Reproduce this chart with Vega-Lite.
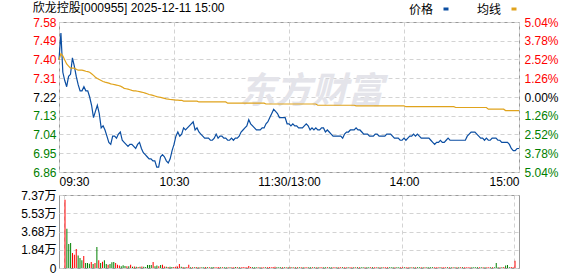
{
"$schema":"https://vega.github.io/schema/vega-lite/v6.json",
"padding":{"left":20,"top":1,"right":0,"bottom":0},
"background":"white",
"config":{"font":"Liberation Sans, Noto Sans CJK SC","view":{"stroke":"#999999","strokeWidth":1},
"axis":{"labelFont":"Liberation Sans, Noto Sans CJK SC","labelFontSize":12,"ticks":false,"domain":false,"gridColor":"#d3d3d3","gridDash":[4,3],"gridWidth":1,"title":null}},
"datasets":{"m":[
{"t":0,"p":7.40,"a":7.40,"v":6.90,"d":"up"},{"t":1,"p":7.53,"a":7.43,"v":3.97,"d":"dn"},{"t":2,"p":7.34,"a":7.42,"v":2.42,"d":"dn"},{"t":3,"p":7.30,"a":7.40,"v":2.52,"d":"dn"},{"t":4,"p":7.27,"a":7.38,"v":1.51,"d":"up"},{"t":5,"p":7.32,"a":7.37,"v":1.35,"d":"up"},{"t":6,"p":7.33,"a":7.36,"v":1.92,"d":"up"},{"t":7,"p":7.41,"a":7.36,"v":1.25,"d":"dn"},{"t":8,"p":7.37,"a":7.36,"v":1.01,"d":"dn"},{"t":9,"p":7.32,"a":7.355,"v":0.77,"d":"dn"},
{"t":10,"p":7.28,"a":7.35,"v":1.20,"d":"up"},{"t":11,"p":7.25,"a":7.35,"v":0.50,"d":"dn"},{"t":12,"p":7.25,"a":7.35,"v":0.50,"d":"dn"},{"t":13,"p":7.27,"a":7.348,"v":0.44,"d":"dn"},{"t":14,"p":7.25,"a":7.345,"v":0.61,"d":"up"},{"t":15,"p":7.25,"a":7.343,"v":0.40,"d":"dn"},{"t":16,"p":7.22,"a":7.34,"v":0.50,"d":"up"},{"t":17,"p":7.18,"a":7.333,"v":2.12,"d":"dn"},{"t":18,"p":7.12,"a":7.325,"v":0.77,"d":"up"},{"t":19,"p":7.15,"a":7.316,"v":0.50,"d":"dn"},
{"t":20,"p":7.18,"a":7.31,"v":0.64,"d":"up"},{"t":21,"p":7.14,"a":7.305,"v":0.77,"d":"dn"},{"t":22,"p":7.07,"a":7.30,"v":0.40,"d":"dn"},{"t":23,"p":7.08,"a":7.295,"v":0.34,"d":"up"},{"t":24,"p":7.06,"a":7.292,"v":0.40,"d":"dn"},{"t":25,"p":7.03,"a":7.29,"v":0.57,"d":"dn"},{"t":26,"p":7.00,"a":7.287,"v":0.61,"d":"dn"},{"t":27,"p":6.99,"a":7.284,"v":0.50,"d":"up"},{"t":28,"p":7.03,"a":7.282,"v":0.34,"d":"up"},{"t":29,"p":7.03,"a":7.28,"v":0.24,"d":"up"},
{"t":30,"p":7.02,"a":7.278,"v":0.17,"d":"dn"},{"t":31,"p":7.04,"a":7.276,"v":0.27,"d":"dn"},{"t":32,"p":7.05,"a":7.273,"v":0.20,"d":"dn"},{"t":33,"p":7.01,"a":7.268,"v":0.17,"d":"up"},{"t":34,"p":7.00,"a":7.262,"v":0.17,"d":"dn"},{"t":35,"p":6.99,"a":7.26,"v":0.34,"d":"up"},{"t":36,"p":6.98,"a":7.258,"v":0.12,"d":"dn"},{"t":37,"p":6.99,"a":7.255,"v":0.14,"d":"up"},{"t":38,"p":6.99,"a":7.252,"v":0.12,"d":"dn"},{"t":39,"p":6.98,"a":7.25,"v":0.10,"d":"up"},
{"t":40,"p":6.97,"a":7.25,"v":0.12,"d":"dn"},{"t":41,"p":6.99,"a":7.248,"v":0.15,"d":"up"},{"t":42,"p":7.00,"a":7.246,"v":0.12,"d":"dn"},{"t":43,"p":6.97,"a":7.244,"v":0.10,"d":"dn"},{"t":44,"p":6.95,"a":7.242,"v":0.30,"d":"dn"},{"t":45,"p":6.94,"a":7.239,"v":0.30,"d":"dn"},{"t":46,"p":6.93,"a":7.236,"v":0.30,"d":"dn"},{"t":47,"p":6.92,"a":7.232,"v":0.61,"d":"up"},{"t":48,"p":6.92,"a":7.23,"v":0.17,"d":"dn"},{"t":49,"p":6.91,"a":7.228,"v":0.24,"d":"dn"},
{"t":50,"p":6.91,"a":7.225,"v":0.17,"d":"up"},{"t":51,"p":6.88,"a":7.222,"v":0.30,"d":"dn"},{"t":52,"p":6.88,"a":7.22,"v":0.34,"d":"up"},{"t":53,"p":6.93,"a":7.218,"v":0.14,"d":"up"},{"t":54,"p":6.94,"a":7.216,"v":0.12,"d":"dn"},{"t":55,"p":6.93,"a":7.213,"v":0.10,"d":"up"},{"t":56,"p":6.91,"a":7.211,"v":0.12,"d":"dn"},{"t":57,"p":6.90,"a":7.21,"v":0.10,"d":"dn"},{"t":58,"p":6.92,"a":7.208,"v":0.10,"d":"up"},{"t":59,"p":6.96,"a":7.207,"v":0.12,"d":"up"},
{"t":60,"p":6.99,"a":7.206,"v":0.14,"d":"up"},{"t":61,"p":7.03,"a":7.205,"v":0.40,"d":"up"},{"t":62,"p":7.05,"a":7.205,"v":0.12,"d":"dn"},{"t":63,"p":7.03,"a":7.204,"v":0.10,"d":"up"},{"t":64,"p":7.04,"a":7.204,"v":0.08,"d":"dn"},{"t":65,"p":7.07,"a":7.20,"v":0.10,"d":"up"},{"t":66,"p":7.06,"a":7.20,"v":0.34,"d":"up"},{"t":67,"p":7.07,"a":7.20,"v":0.08,"d":"dn"},{"t":68,"p":7.08,"a":7.20,"v":0.08,"d":"up"},{"t":69,"p":7.09,"a":7.20,"v":0.08,"d":"dn"},
{"t":70,"p":7.10,"a":7.20,"v":0.10,"d":"up"},{"t":71,"p":7.06,"a":7.20,"v":0.08,"d":"dn"},{"t":72,"p":7.07,"a":7.20,"v":0.07,"d":"up"},{"t":73,"p":7.05,"a":7.196,"v":0.08,"d":"dn"},{"t":74,"p":7.04,"a":7.196,"v":0.07,"d":"dn"},{"t":75,"p":7.03,"a":7.196,"v":0.10,"d":"up"},{"t":76,"p":7.02,"a":7.196,"v":0.08,"d":"dn"},{"t":77,"p":7.02,"a":7.196,"v":0.07,"d":"up"},{"t":78,"p":7.02,"a":7.196,"v":0.08,"d":"dn"},{"t":79,"p":7.01,"a":7.196,"v":0.10,"d":"dn"},
{"t":80,"p":7.01,"a":7.196,"v":0.07,"d":"up"},{"t":81,"p":7.02,"a":7.196,"v":0.08,"d":"up"},{"t":82,"p":7.04,"a":7.196,"v":0.10,"d":"up"},{"t":83,"p":7.02,"a":7.196,"v":0.08,"d":"dn"},{"t":84,"p":7.03,"a":7.196,"v":0.07,"d":"up"},{"t":85,"p":7.03,"a":7.196,"v":0.08,"d":"dn"},{"t":86,"p":7.02,"a":7.196,"v":0.08,"d":"dn"},{"t":87,"p":7.02,"a":7.196,"v":0.07,"d":"up"},{"t":88,"p":7.01,"a":7.19,"v":0.08,"d":"dn"},{"t":89,"p":7.01,"a":7.19,"v":0.07,"d":"up"},
{"t":90,"p":7.02,"a":7.19,"v":0.08,"d":"up"},{"t":91,"p":7.01,"a":7.19,"v":0.10,"d":"dn"},{"t":92,"p":7.02,"a":7.19,"v":0.08,"d":"up"},{"t":93,"p":7.02,"a":7.19,"v":0.07,"d":"dn"},{"t":94,"p":7.03,"a":7.19,"v":0.08,"d":"up"},{"t":95,"p":7.05,"a":7.19,"v":0.10,"d":"up"},{"t":96,"p":7.06,"a":7.19,"v":0.08,"d":"up"},{"t":97,"p":7.07,"a":7.19,"v":0.08,"d":"up"},{"t":98,"p":7.08,"a":7.19,"v":0.20,"d":"up"},{"t":99,"p":7.11,"a":7.19,"v":0.10,"d":"up"},
{"t":100,"p":7.09,"a":7.19,"v":0.08,"d":"dn"},{"t":101,"p":7.08,"a":7.19,"v":0.07,"d":"dn"},{"t":102,"p":7.07,"a":7.19,"v":0.08,"d":"dn"},{"t":103,"p":7.06,"a":7.19,"v":0.07,"d":"up"},{"t":104,"p":7.06,"a":7.19,"v":0.08,"d":"dn"},{"t":105,"p":7.06,"a":7.19,"v":0.07,"d":"up"},{"t":106,"p":7.07,"a":7.19,"v":0.08,"d":"up"},{"t":107,"p":7.07,"a":7.19,"v":0.07,"d":"dn"},{"t":108,"p":7.09,"a":7.186,"v":0.08,"d":"up"},{"t":109,"p":7.10,"a":7.186,"v":0.10,"d":"up"},
{"t":110,"p":7.12,"a":7.186,"v":0.08,"d":"up"},{"t":111,"p":7.14,"a":7.186,"v":0.10,"d":"up"},{"t":112,"p":7.16,"a":7.186,"v":0.12,"d":"up"},{"t":113,"p":7.15,"a":7.186,"v":0.08,"d":"dn"},{"t":114,"p":7.14,"a":7.186,"v":0.07,"d":"dn"},{"t":115,"p":7.12,"a":7.186,"v":0.08,"d":"dn"},{"t":116,"p":7.12,"a":7.186,"v":0.07,"d":"up"},{"t":117,"p":7.12,"a":7.186,"v":0.08,"d":"dn"},{"t":118,"p":7.12,"a":7.186,"v":0.07,"d":"up"},{"t":119,"p":7.09,"a":7.186,"v":0.08,"d":"dn"},
{"t":120,"p":7.09,"a":7.186,"v":0.10,"d":"up"},{"t":121,"p":7.08,"a":7.186,"v":0.08,"d":"dn"},{"t":122,"p":7.09,"a":7.186,"v":0.07,"d":"up"},{"t":123,"p":7.08,"a":7.186,"v":0.08,"d":"dn"},{"t":124,"p":7.08,"a":7.186,"v":0.07,"d":"up"},{"t":125,"p":7.07,"a":7.186,"v":0.08,"d":"dn"},{"t":126,"p":7.07,"a":7.186,"v":0.07,"d":"up"},{"t":127,"p":7.07,"a":7.186,"v":0.08,"d":"dn"},{"t":128,"p":7.08,"a":7.186,"v":0.07,"d":"up"},{"t":129,"p":7.09,"a":7.186,"v":0.08,"d":"up"},
{"t":130,"p":7.08,"a":7.186,"v":0.07,"d":"dn"},{"t":131,"p":7.06,"a":7.186,"v":0.08,"d":"dn"},{"t":132,"p":7.07,"a":7.186,"v":0.07,"d":"up"},{"t":133,"p":7.06,"a":7.186,"v":0.08,"d":"dn"},{"t":134,"p":7.07,"a":7.186,"v":0.07,"d":"up"},{"t":135,"p":7.06,"a":7.18,"v":0.08,"d":"dn"},{"t":136,"p":7.06,"a":7.18,"v":0.07,"d":"up"},{"t":137,"p":7.07,"a":7.18,"v":0.08,"d":"up"},{"t":138,"p":7.07,"a":7.18,"v":0.07,"d":"dn"},{"t":139,"p":7.05,"a":7.18,"v":0.08,"d":"dn"},
{"t":140,"p":7.06,"a":7.18,"v":0.07,"d":"up"},{"t":141,"p":7.05,"a":7.18,"v":0.08,"d":"dn"},{"t":142,"p":7.04,"a":7.18,"v":0.07,"d":"dn"},{"t":143,"p":7.03,"a":7.18,"v":0.08,"d":"up"},{"t":144,"p":7.03,"a":7.18,"v":0.07,"d":"up"},{"t":145,"p":7.03,"a":7.18,"v":0.08,"d":"dn"},{"t":146,"p":7.03,"a":7.18,"v":0.07,"d":"up"},{"t":147,"p":7.03,"a":7.18,"v":0.08,"d":"up"},{"t":148,"p":7.02,"a":7.18,"v":0.07,"d":"dn"},{"t":149,"p":7.04,"a":7.18,"v":0.08,"d":"up"},
{"t":150,"p":7.05,"a":7.18,"v":0.07,"d":"up"},{"t":151,"p":7.05,"a":7.18,"v":0.08,"d":"dn"},{"t":152,"p":7.06,"a":7.18,"v":0.07,"d":"up"},{"t":153,"p":7.06,"a":7.18,"v":0.08,"d":"up"},{"t":154,"p":7.06,"a":7.18,"v":0.07,"d":"dn"},{"t":155,"p":7.07,"a":7.177,"v":0.08,"d":"up"},{"t":156,"p":7.06,"a":7.177,"v":0.07,"d":"dn"},{"t":157,"p":7.06,"a":7.177,"v":0.08,"d":"up"},{"t":158,"p":7.05,"a":7.177,"v":0.07,"d":"dn"},{"t":159,"p":7.04,"a":7.177,"v":0.08,"d":"dn"},
{"t":160,"p":7.04,"a":7.177,"v":0.07,"d":"up"},{"t":161,"p":7.04,"a":7.177,"v":0.08,"d":"dn"},{"t":162,"p":7.03,"a":7.177,"v":0.07,"d":"dn"},{"t":163,"p":7.03,"a":7.177,"v":0.08,"d":"up"},{"t":164,"p":7.03,"a":7.177,"v":0.07,"d":"dn"},{"t":165,"p":7.04,"a":7.177,"v":0.08,"d":"up"},{"t":166,"p":7.04,"a":7.177,"v":0.07,"d":"up"},{"t":167,"p":7.03,"a":7.177,"v":0.08,"d":"dn"},{"t":168,"p":7.03,"a":7.177,"v":0.07,"d":"up"},{"t":169,"p":7.03,"a":7.177,"v":0.08,"d":"dn"},
{"t":170,"p":7.03,"a":7.177,"v":0.07,"d":"up"},{"t":171,"p":7.04,"a":7.177,"v":0.08,"d":"up"},{"t":172,"p":7.04,"a":7.177,"v":0.07,"d":"up"},{"t":173,"p":7.04,"a":7.177,"v":0.08,"d":"dn"},{"t":174,"p":7.03,"a":7.177,"v":0.07,"d":"dn"},{"t":175,"p":7.02,"a":7.177,"v":0.08,"d":"dn"},{"t":176,"p":7.02,"a":7.177,"v":0.07,"d":"up"},{"t":177,"p":7.02,"a":7.177,"v":0.08,"d":"dn"},{"t":178,"p":7.01,"a":7.177,"v":0.07,"d":"dn"},{"t":179,"p":7.01,"a":7.177,"v":0.08,"d":"up"},
{"t":180,"p":7.02,"a":7.177,"v":0.07,"d":"up"},{"t":181,"p":7.01,"a":7.173,"v":0.08,"d":"dn"},{"t":182,"p":7.02,"a":7.173,"v":0.07,"d":"up"},{"t":183,"p":7.03,"a":7.173,"v":0.08,"d":"up"},{"t":184,"p":7.03,"a":7.173,"v":0.07,"d":"dn"},{"t":185,"p":7.04,"a":7.173,"v":0.08,"d":"up"},{"t":186,"p":7.03,"a":7.173,"v":0.07,"d":"dn"},{"t":187,"p":7.04,"a":7.173,"v":0.08,"d":"up"},{"t":188,"p":7.03,"a":7.173,"v":0.07,"d":"dn"},{"t":189,"p":7.02,"a":7.173,"v":0.08,"d":"dn"},
{"t":190,"p":7.02,"a":7.173,"v":0.07,"d":"up"},{"t":191,"p":7.02,"a":7.173,"v":0.08,"d":"dn"},{"t":192,"p":7.02,"a":7.173,"v":0.07,"d":"up"},{"t":193,"p":7.02,"a":7.173,"v":0.08,"d":"dn"},{"t":194,"p":7.01,"a":7.173,"v":0.07,"d":"dn"},{"t":195,"p":7.00,"a":7.173,"v":0.08,"d":"dn"},{"t":196,"p":6.99,"a":7.173,"v":0.07,"d":"dn"},{"t":197,"p":7.00,"a":7.173,"v":0.08,"d":"up"},{"t":198,"p":7.00,"a":7.173,"v":0.07,"d":"up"},{"t":199,"p":7.01,"a":7.173,"v":0.08,"d":"up"},
{"t":200,"p":7.00,"a":7.173,"v":0.07,"d":"dn"},{"t":201,"p":7.00,"a":7.173,"v":0.08,"d":"up"},{"t":202,"p":7.01,"a":7.173,"v":0.07,"d":"up"},{"t":203,"p":7.02,"a":7.173,"v":0.08,"d":"up"},{"t":204,"p":7.01,"a":7.173,"v":0.07,"d":"dn"},{"t":205,"p":7.01,"a":7.173,"v":0.08,"d":"up"},{"t":206,"p":7.01,"a":7.173,"v":0.07,"d":"dn"},{"t":207,"p":7.01,"a":7.169,"v":0.08,"d":"up"},{"t":208,"p":7.01,"a":7.169,"v":0.07,"d":"dn"},{"t":209,"p":7.01,"a":7.169,"v":0.08,"d":"up"},
{"t":210,"p":7.01,"a":7.169,"v":0.07,"d":"dn"},{"t":211,"p":7.01,"a":7.169,"v":0.08,"d":"up"},{"t":212,"p":7.01,"a":7.169,"v":0.07,"d":"dn"},{"t":213,"p":7.03,"a":7.169,"v":0.08,"d":"up"},{"t":214,"p":7.04,"a":7.169,"v":0.07,"d":"up"},{"t":215,"p":7.05,"a":7.169,"v":0.08,"d":"up"},{"t":216,"p":7.05,"a":7.169,"v":0.07,"d":"up"},{"t":217,"p":7.05,"a":7.169,"v":0.08,"d":"dn"},{"t":218,"p":7.04,"a":7.169,"v":0.07,"d":"dn"},{"t":219,"p":7.03,"a":7.169,"v":0.08,"d":"dn"},
{"t":220,"p":7.02,"a":7.169,"v":0.07,"d":"dn"},{"t":221,"p":7.02,"a":7.169,"v":0.08,"d":"up"},{"t":222,"p":7.01,"a":7.169,"v":0.07,"d":"dn"},{"t":223,"p":7.02,"a":7.169,"v":0.08,"d":"up"},{"t":224,"p":7.01,"a":7.161,"v":0.07,"d":"dn"},{"t":225,"p":7.01,"a":7.161,"v":0.08,"d":"up"},{"t":226,"p":7.02,"a":7.161,"v":0.07,"d":"up"},{"t":227,"p":7.02,"a":7.161,"v":0.08,"d":"dn"},{"t":228,"p":7.02,"a":7.161,"v":0.07,"d":"up"},{"t":229,"p":7.01,"a":7.161,"v":0.08,"d":"dn"},
{"t":230,"p":7.01,"a":7.161,"v":0.50,"d":"dn"},{"t":231,"p":7.00,"a":7.161,"v":0.08,"d":"dn"},{"t":232,"p":7.00,"a":7.161,"v":0.07,"d":"up"},{"t":233,"p":7.00,"a":7.154,"v":0.08,"d":"dn"},{"t":234,"p":7.00,"a":7.154,"v":0.10,"d":"up"},{"t":235,"p":6.99,"a":7.154,"v":0.24,"d":"dn"},{"t":236,"p":6.97,"a":7.154,"v":0.30,"d":"dn"},{"t":237,"p":6.96,"a":7.154,"v":0.08,"d":"dn"},{"t":238,"p":6.96,"a":7.154,"v":0.10,"d":"up"},{"t":239,"p":6.97,"a":7.154,"v":0.08,"d":"up"},
{"t":240,"p":6.97,"a":7.154,"v":0.74,"d":"up"}
]},
"data":{"name":"m"},
"spacing":0,
"resolve":{"scale":{"x":"independent","y":"independent","color":"independent"}},
"vconcat":[
{"width":460,"height":150,
"title":{"text":"欣龙控股[000955] 2025-12-11 15:00","anchor":"start","fontSize":12,"fontWeight":"normal","offset":-11,"color":"#000000","font":"Liberation Sans, Noto Sans CJK SC"},
"resolve":{"scale":{"y":"independent","color":"independent"}},
"layer":[
{"data":{"values":[{"w":"东方财富"}]},
"mark":{"type":"text","font":"Noto Sans CJK SC","fontSize":36,"fontWeight":"bold","fontStyle":"italic","color":"#e4e4ea"},
"encoding":{"x":{"datum":131.7,"type":"quantitative"},"y":{"datum":7.243,"type":"quantitative","scale":{"domain":[6.856,7.584],"nice":false,"zero":false},"axis":null},"text":{"field":"w"}}},
{"mark":{"type":"line","strokeWidth":1.2},
"encoding":{
"x":{"field":"t","type":"quantitative","scale":{"domain":[0,240],"nice":false,"zero":false},"axis":{"values":[0,60,120,180,240],"labelExpr":"datum.value==0?'09:30':datum.value==60?'10:30':datum.value==120?'11:30/13:00':datum.value==180?'14:00':'15:00'","grid":true,"labelPadding":4,"labelColor":"#000000"}},
"y":{"field":"p","type":"quantitative","scale":{"domain":[6.856,7.584],"nice":false,"zero":false},"axis":{"values":[6.856,6.947,7.038,7.129,7.22,7.311,7.402,7.493,7.584],"format":".2f","grid":true,"labelPadding":3,"labelColor":{"condition":[{"test":"datum.value > 7.23","value":"#ff0000"},{"test":"datum.value < 7.21","value":"#008000"}],"value":"#000000"}}},
"color":{"datum":"价格","scale":{"range":["#0b4ea2"]},"legend":{"orient":"none","legendX":350,"legendY":-18,"title":"价格","titleOrient":"left","titleFontSize":12,"titleFontWeight":"normal","titleColor":"#000000","titlePadding":7,"titleFont":"Noto Sans CJK SC","labelExpr":"''","labelOffset":0,"symbolType":"stroke","symbolSize":25,"symbolStrokeWidth":3,"padding":0}}}},
{"mark":{"type":"line","strokeWidth":1.2},
"encoding":{
"x":{"field":"t","type":"quantitative","scale":{"domain":[0,240],"nice":false,"zero":false}},
"y":{"field":"a","type":"quantitative","scale":{"domain":[6.856,7.584],"nice":false,"zero":false},"axis":{"orient":"right","values":[6.856,6.947,7.038,7.129,7.22,7.311,7.402,7.493,7.584],"labelExpr":"format(abs(datum.value-7.22)/7.22*100,'.2f')+'%'","grid":false,"labelPadding":5,"labelColor":{"condition":[{"test":"datum.value > 7.23","value":"#ff0000"},{"test":"datum.value < 7.21","value":"#008000"}],"value":"#000000"}}},
"color":{"datum":"均线","scale":{"range":["#e0a31c"]},"legend":{"orient":"none","legendX":418,"legendY":-18,"title":"均线","titleOrient":"left","titleFontSize":12,"titleFontWeight":"normal","titleColor":"#000000","titlePadding":7,"titleFont":"Noto Sans CJK SC","labelExpr":"''","labelOffset":0,"symbolType":"stroke","symbolSize":25,"symbolStrokeWidth":3,"padding":0}}}}
]},
{"width":460,"height":73,
"mark":{"type":"bar","width":1,"xOffset":1},
"encoding":{
"x":{"field":"t","type":"quantitative","scale":{"domain":[0,240],"nice":false,"zero":false},"axis":{"values":[0,60,120,180,240],"labels":false,"grid":true}},
"y":{"field":"v","type":"quantitative","scale":{"domain":[0,7.37],"nice":false},"axis":{"values":[0,1.842,3.684,5.528,7.37],"labelExpr":"datum.value==0?'0':format(datum.value,'.2f')+'万'","grid":true,"labelPadding":3,"labelColor":"#000000"}},
"color":{"field":"d","type":"nominal","scale":{"domain":["up","dn"],"range":["#ff0000","#008000"]},"legend":null}}}
]
}
